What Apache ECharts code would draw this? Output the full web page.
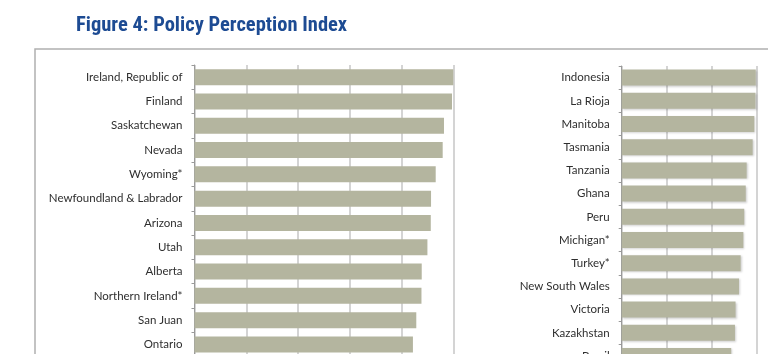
<!DOCTYPE html>
<html>
<head>
<meta charset="utf-8">
<script src="https://cdn.jsdelivr.net/npm/echarts@6/dist/echarts.min.js"></script>
<style>
  html, body { margin: 0; padding: 0; background: #fff; overflow: hidden; }
  #main { width: 768px; height: 400px; }
</style>
</head>
<body>
<div id="main"></div>
<script>
// left column
var leftNames = ['Ireland, Republic of', 'Finland', 'Saskatchewan', 'Nevada', 'Wyoming*',
  'Newfoundland & Labrador', 'Arizona', 'Utah', 'Alberta', 'Northern Ireland*', 'San Juan', 'Ontario'];
var leftValues = [100, 99.5, 96.4, 95.9, 93.2, 91.4, 91.3, 90.0, 87.8, 87.7, 85.7, 84.4];

// right column
var rightNames = ['Indonesia', 'La Rioja', 'Manitoba', 'Tasmania', 'Tanzania', 'Ghana', 'Peru',
  'Michigan*', 'Turkey*', 'New South Wales', 'Victoria', 'Kazakhstan', 'Brazil'];
var rightValues = [89.4, 89.2, 88.4, 87.3, 83.3, 82.7, 81.7, 81.1, 79.3, 78.2, 75.9, 75.5, 73.0];

var barColor = '#b4b59f';
var gridColor = '#c6c6c6';

// chart div is taller than the window, so the bottom of both panels is cut like in the scan
var myChart = echarts.init(document.getElementById('main'));

function catAxis(idx, names) {
  return {
    type: 'category',
    gridIndex: idx,
    inverse: true,
    data: names,
    axisLine: { show: true, lineStyle: { color: '#9a9a9a', width: 1 } },
    axisTick: { show: true, length: 3, lineStyle: { color: '#9a9a9a' } },
    axisLabel: { color: '#2e2e2e', fontFamily: 'Lato', fontSize: 11.5, margin: 12 }
  };
}

function valAxis(idx, max, step) {
  return {
    type: 'value',
    gridIndex: idx,
    min: 0,
    max: max,
    interval: step,
    axisLine: { show: false },
    axisTick: { show: false },
    axisLabel: { show: false },
    splitLine: { show: true, lineStyle: { color: gridColor, width: 1.5 } }
  };
}

var option = {
  animation: false,
  title: {
    text: 'Figure 4: Policy Perception Index',
    left: 71,
    top: 10,
    textStyle: {
      fontFamily: "'Liberation Sans Narrow', 'Roboto Condensed', Roboto",
      fontWeight: 'bold',
      fontSize: 20.5,
      color: '#1d4b93'
    }
  },
  graphic: [{
    type: 'polyline',
    shape: { points: [[35, 420], [35, 49], [768, 49]] },
    style: { fill: 'none', stroke: '#b0b0b0', lineWidth: 1.5 },
    z: -1
  }],
  grid: [
    { left: 194.5, right: 314.7, top: 65, height: 291.6 },
    { left: 621.7, right: 11.3, top: 66, height: 301.6 }
  ],
  xAxis: [valAxis(0, 100, 20), valAxis(1, 90, 30)],
  yAxis: [catAxis(0, leftNames), catAxis(1, rightNames)],
  series: [
    {
      type: 'bar',
      xAxisIndex: 0,
      yAxisIndex: 0,
      data: leftValues,
      barWidth: 16,
      itemStyle: { color: barColor }
    },
    {
      type: 'bar',
      xAxisIndex: 1,
      yAxisIndex: 1,
      data: rightValues,
      barWidth: 16,
      itemStyle: {
        color: barColor,
        shadowColor: 'rgba(0,0,0,0.18)',
        shadowBlur: 2,
        shadowOffsetX: 1,
        shadowOffsetY: 1
      }
    }
  ]
};

myChart.setOption(option);
</script>
</body>
</html>
